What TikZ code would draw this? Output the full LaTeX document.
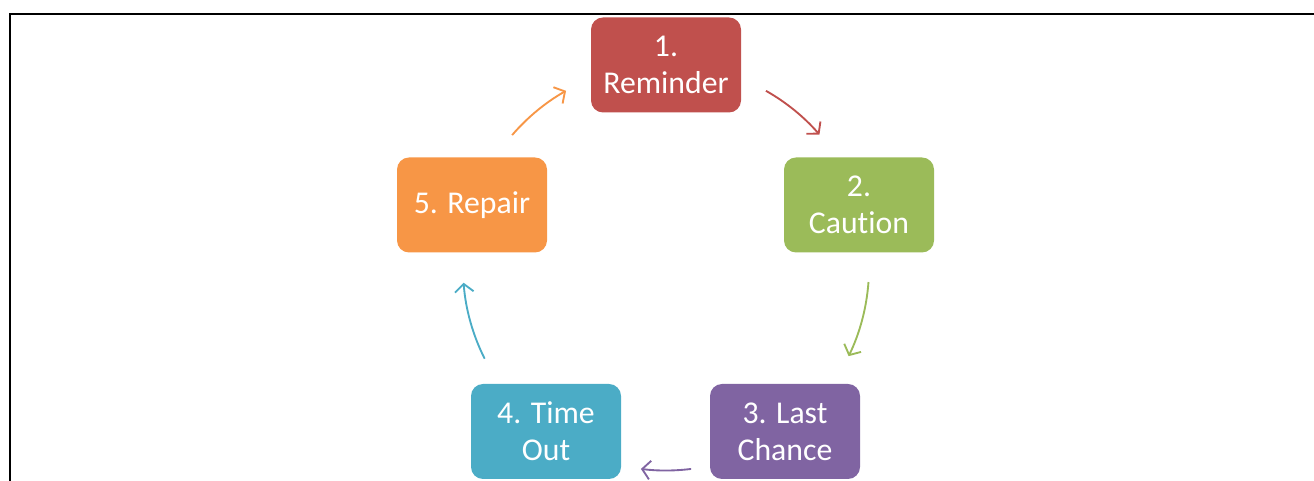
\documentclass[tikz,border=0pt]{standalone}
\usepackage{fontspec}
\setmainfont{Carlito}[Ligatures=NoCommon]
\usetikzlibrary{arrows.meta}
\definecolor{cRed}{HTML}{C0504D}
\definecolor{cGreen}{HTML}{9BBB59}
\definecolor{cPurple}{HTML}{8064A2}
\definecolor{cTeal}{HTML}{4BACC6}
\definecolor{cOrange}{HTML}{F79646}
\tikzset{
  stepbox/.style={rounded corners=9pt, minimum width=112.5pt, minimum height=71.25pt,
    text=white, align=center, inner sep=2pt,
    font=\fontsize{23.8pt}{27.5pt}\selectfont},
  cyc/.style={line width=1.4pt, -{Straight Barb[length=6pt,width=14pt,line width=1.4pt]}},
}
\begin{document}
\begin{tikzpicture}[x=0.75pt,y=0.75pt]
\useasboundingbox (0,0) rectangle (1314,481);
\draw[line width=1.5pt] (1314,467) -- (10,467) -- (10,0);
\coordinate (ctr) at (666,213.5);
\node[stepbox, fill=cRed]    (n1) at (666,416) {1.\\Reminder};
\node[stepbox, fill=cGreen]  (n2) at (859,276) {2.\\Caution};
\node[stepbox, fill=cPurple] (n3) at (785,49.5)  {3. Last\\Chance};
\node[stepbox, fill=cTeal]   (n4) at (546,49.5)  {4. Time\\Out};
\node[stepbox, fill=cOrange] (n5) at (472,276) {5. Repair};
\draw[cyc, cRed]    ([shift={(60.5:152.25pt)}]ctr) arc[start angle=60.5, end angle=40.9, radius=152.25pt];
\draw[cyc, cGreen]  ([shift={(-4.1:152.25pt)}]ctr) arc[start angle=-4.1, end angle=-25.9, radius=152.25pt];
\draw[cyc, cPurple] ([shift={(-82.9:152.25pt)}]ctr) arc[start angle=-82.9, end angle=-97.1, radius=152.25pt];
\draw[cyc, cTeal]   ([shift={(206.7:152.25pt)}]ctr) arc[start angle=206.7, end angle=184.3, radius=152.25pt];
\draw[cyc, cOrange] ([shift={(139.3:152.25pt)}]ctr) arc[start angle=139.3, end angle=119.5, radius=152.25pt];
\end{tikzpicture}
\end{document}
